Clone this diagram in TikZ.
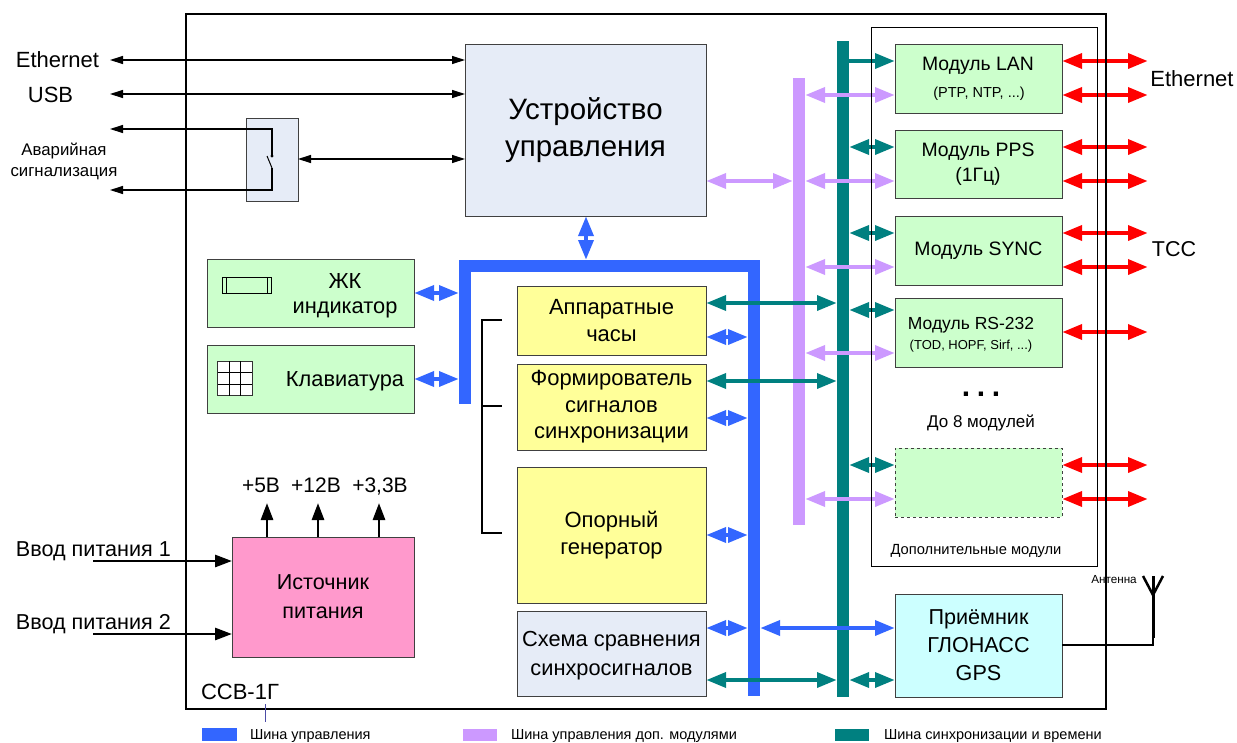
\documentclass[tikz,border=0pt]{standalone}
\usepackage{fontspec}
\setmainfont{Liberation Sans}
\usetikzlibrary{arrows.meta}
\definecolor{cblue}{HTML}{3366FF}
\definecolor{cpurp}{HTML}{CC99FF}
\definecolor{cteal}{HTML}{008080}
\definecolor{cgreen}{HTML}{CCFFCC}
\definecolor{cyell}{HTML}{FFFF99}
\definecolor{ccyan}{HTML}{CCFFFF}
\definecolor{cpink}{HTML}{FF99CC}
\definecolor{cgrey}{HTML}{E6ECF7}
\newcommand\fs[2]{\fontsize{#1}{#2}\selectfont}
\newcommand\bx[7]{\node[#6,minimum width={(#4-#2)*1pt},minimum height={(#5-#3)*1pt}] (#1) at ({(#2+#4)/2},{(#3+#5)/2}) {#7};}
\tikzset{
 box/.style={draw=black!75,line width=1pt,inner sep=0pt,outer sep=0pt,align=center,text=black},
 bar/.style={inner sep=0pt,outer sep=0pt},
 frame/.style={draw=black,inner sep=0pt,outer sep=0pt},
 fat/.style={line width=4.6pt,{Triangle[length=20pt,width=14.5pt]}-{Triangle[length=20pt,width=14.5pt]}},
 fatr/.style={line width=4.6pt,-{Triangle[length=20pt,width=14.5pt]}},
 thin arrow/.style={line width=1.2pt,{Triangle[length=13pt,width=8pt]}-{Triangle[length=13pt,width=8pt]}},
 thin left/.style={line width=1.2pt,{Triangle[length=13pt,width=8pt]}-},
 power/.style={line width=2.8pt,-{Triangle[length=17pt,width=12pt]}},
 lbl/.style={inner sep=0pt,outer sep=0pt,align=center,text=black},
}
\begin{document}
\begin{tikzpicture}[x=1pt,y=-1pt]
\useasboundingbox (0,0) rectangle (1237,742);
\fill[white] (0,0) rectangle (1237,742);
% buses
\bx{tbar}{837}{41}{849}{697}{bar,fill=cteal}{}
\bx{pbar}{793}{78}{805}{525}{bar,fill=cpurp}{}
\bx{busT}{459}{260}{760}{272}{bar,fill=cblue}{}
\bx{busL}{459}{260}{471}{404}{bar,fill=cblue}{}
\bx{busR}{748}{260}{760}{696}{bar,fill=cblue}{}
% boxes
\bx{cu}{465}{44}{706}{216}{box,fill=cgrey,font=\fs{29.5}{37}}{Устройство\\управления}
\bx{sw}{246.5}{118.5}{298}{201}{box,fill=cgrey}{}
\bx{lcd}{207}{259}{414}{327}{box,fill=cgreen}{}
\bx{kbd}{207}{345}{414}{413}{box,fill=cgreen}{}
\bx{clk}{517}{286}{706}{355}{box,fill=cyell,font=\fs{22}{27}}{Аппаратные\\часы}
\bx{form}{517}{364}{706}{450}{box,fill=cyell,font=\fs{22}{26.5}}{Формирователь\\сигналов\\синхронизации}
\bx{gen}{517}{467}{706}{603}{box,fill=cyell,font=\fs{22}{27}}{Опорный\\генератор}
\bx{cmp}{517}{611}{706}{696}{box,fill=cgrey}{}
\bx{psu}{232}{537}{414}{657}{box,fill=cpink,font=\fs{21.6}{29}}{Источник\\питания}
\bx{lan}{895}{44}{1062}{113}{box,fill=cgreen}{}
\bx{pps}{895}{130}{1062}{198}{box,fill=cgreen}{}
\bx{sync}{895}{216}{1062}{285}{box,fill=cgreen,font=\fs{19.4}{22}}{Модуль SYNC}
\bx{rs}{895}{298}{1062}{367}{box,fill=cgreen}{}
\bx{extra}{895}{448}{1062}{517}{box,fill=cgreen,dashed}{}
\bx{gps}{895}{594}{1062}{697}{box,fill=ccyan,font=\fs{21.6}{28}}{Приёмник\\ГЛОНАСС\\GPS}
% labels inside boxes
\node[lbl,font=\fs{21.8}{29}] (cmpt) at (611.5,655.5) {Схема сравнения\\синхросигналов};
\node[lbl,font=\fs{19.4}{25}] (ppst) at (978,164.5) {Модуль PPS\\(1Гц)};
\node[lbl,font=\fs{21.8}{25}] (lcdt) at (345,295.5) {ЖК\\индикатор};
\node[lbl,font=\fs{21.8}{24}] (kbdt) at (345,381) {Клавиатура};
\node[lbl,font=\fs{19.4}{22}] (lant) at (978,66) {Модуль LAN};
\node[lbl,font=\fs{14.5}{16}] (lans) at (979,94) {(PTP, NTP, ...)};
\node[lbl,font=\fs{17.5}{22}] (rst) at (971,325) {Модуль RS-232};
\node[lbl,font=\fs{13}{14}] (rss) at (971,346) {(TOD, HOPF, Sirf, ...)};
\node[lbl,anchor=base,font=\fs{30}{30}\bfseries] (dots) at (981,396.5) {.\hskip 6.7pt.\hskip 6.7pt.};
\node[lbl,font=\fs{17}{18}] (upto) at (981,423) {До 8 модулей};
\node[lbl,font=\fs{14.7}{16}] (addm) at (976,551) {Дополнительные модули};
% icons
\node[box,draw=black,line width=0.8pt,minimum width=49pt,minimum height=16pt,fill=cgreen] (lcdi) at (247,285) {};
\draw[line width=0.8pt] ([xshift=4pt]lcdi.north west) -- ([xshift=4pt]lcdi.south west);
\draw[line width=0.8pt] ([xshift=-4pt]lcdi.north east) -- ([xshift=-4pt]lcdi.south east);
\node[box,draw=black!80,line width=0.8pt,minimum width=34.5pt,minimum height=34.5pt,fill=white] (kbdi) at (235,378.5) {};
\draw[line width=0.8pt] (kbdi.north west) ++(11.5,0) -- ++(0,34.5);
\draw[line width=0.8pt] (kbdi.north west) ++(23,0) -- ++(0,34.5);
\draw[line width=0.8pt] (kbdi.north west) ++(0,11.5) -- ++(34.5,0);
\draw[line width=0.8pt] (kbdi.north west) ++(0,23) -- ++(34.5,0);
% bracket
\coordinate (brA) at (502,320);
\coordinate (brB) at (502,406);
\coordinate (brC) at (502,533);
\draw[line width=2.5pt] (brA) -- (482,320) -- (482,533) -- (brC);
\draw[line width=2.5pt] (482,406) -- (brB);
% control bus arrows (blue)
\draw[fat,draw=cblue,fill=cblue] (cu.south -| 586,0) -- (busT.north -| 586,0);
\draw[fat,draw=cblue,fill=cblue] (lcd.east |- 0,293) -- (busL.west |- 0,293);
\draw[fat,draw=cblue,fill=cblue] (kbd.east |- 0,379) -- (busL.west |- 0,379);
\draw[fat,draw=cblue,fill=cblue] (clk.east |- 0,337) -- (busR.west |- 0,337);
\draw[fat,draw=cblue,fill=cblue] (form.east |- 0,418) -- (busR.west |- 0,418);
\draw[fat,draw=cblue,fill=cblue] (gen.east |- 0,535) -- (busR.west |- 0,535);
\draw[fat,draw=cblue,fill=cblue] (cmp.east |- 0,628) -- (busR.west |- 0,628);
\draw[fat,draw=cblue,fill=cblue] (busR.east |- 0,628) -- (gps.west |- 0,628);
% purple arrows
\draw[fat,draw=cpurp,fill=cpurp] (cu.east |- 0,181) -- (pbar.west |- 0,181);
\draw[fat,draw=cpurp,fill=cpurp] (pbar.east |- 0,95) -- (lan.west |- 0,95);
\draw[fat,draw=cpurp,fill=cpurp] (pbar.east |- 0,181) -- (pps.west |- 0,181);
\draw[fat,draw=cpurp,fill=cpurp] (pbar.east |- 0,267) -- (sync.west |- 0,267);
\draw[fat,draw=cpurp,fill=cpurp] (pbar.east |- 0,353) -- (rs.west |- 0,353);
\draw[fat,draw=cpurp,fill=cpurp] (pbar.east |- 0,499) -- (extra.west |- 0,499);
% teal arrows
\draw[fatr,draw=cteal,fill=cteal] (tbar.east |- 0,61) -- (lan.west |- 0,61);
\draw[fat,draw=cteal,fill=cteal] (tbar.east |- 0,147) -- (pps.west |- 0,147);
\draw[fat,draw=cteal,fill=cteal] (tbar.east |- 0,233) -- (sync.west |- 0,233);
\draw[fat,draw=cteal,fill=cteal] (tbar.east |- 0,310) -- (rs.west |- 0,310);
\draw[fat,draw=cteal,fill=cteal] (tbar.east |- 0,465) -- (extra.west |- 0,465);
\draw[fat,draw=cteal,fill=cteal] (tbar.east |- 0,680) -- (gps.west |- 0,680);
\draw[fat,draw=cteal,fill=cteal] (clk.east |- 0,303) -- (tbar.west |- 0,303);
\draw[fat,draw=cteal,fill=cteal] (form.east |- 0,381) -- (tbar.west |- 0,381);
\draw[fat,draw=cteal,fill=cteal] (cmp.east |- 0,680) -- (tbar.west |- 0,680);
% red arrows
\foreach \n/\y/\m in {lan/61/a,lan/95/b,pps/147/c,pps/181/d,sync/233/e,sync/267/f,rs/332/g,extra/465/h,extra/499/i}{
  \coordinate (red\m) at (1148,\y);
  \draw[fat,draw=red,fill=red] (\n.east |- 0,\y) -- (red\m);
}
% thin connectors
\coordinate (ethL) at (110,60);
\coordinate (usbL) at (110,94);
\coordinate (alA) at (110,129);
\coordinate (alB) at (110,190);
\coordinate (swA) at (272,156);
\coordinate (swB) at (272,168);
\draw[thin arrow] (ethL) -- (cu.west |- ethL);
\draw[thin arrow] (usbL) -- (cu.west |- usbL);
\draw[thin arrow] (sw.east |- 0,159) -- (cu.west |- 0,159);
\draw[thin left] (alA) -- (272,129) -- (swA);
\draw[thin left] (alB) -- (272,190) -- (swB);
\draw[line width=1pt] (swB) -- (267,156);
\fill (swA) circle (1.6);
% power
\coordinate (pw1) at (93,561);
\coordinate (pw2) at (93,634);
\draw[power] (pw1) -- (psu.west |- pw1);
\draw[power] (pw2) -- (psu.west |- pw2);
\coordinate (v5) at (267,503);
\coordinate (v12) at (318,503);
\coordinate (v33) at (379,503);
\draw[power] (psu.north -| v5) -- (v5);
\draw[power] (psu.north -| v12) -- (v12);
\draw[power] (psu.north -| v33) -- (v33);
% antenna
\coordinate (ant) at (1153,595);
\coordinate (antL) at (1143,576);
\coordinate (antR) at (1163,576);
\coordinate (antT) at (1153,576);
\coordinate (antB) at (1153,638);
\draw[line width=1.2pt] (gps.east |- 0,645) -- (1153,645) -- (antB);
\draw[line width=3pt] (antB) -- (antT);
\draw[line width=2.5pt] (antL) -- (ant) -- (antR);
% frames on top
\bx{main}{186}{14}{1106}{709}{frame,line width=2.2pt}{}
\bx{addf}{871}{27}{1097.5}{566.5}{frame,line width=1pt}{}
% outer labels
\node[lbl,font=\fs{22}{24}] (tEth) at (57.5,60) {Ethernet};
\node[lbl,font=\fs{22}{24}] (tUsb) at (50.5,94.5) {USB};
\node[lbl,font=\fs{16.8}{21}] (tAl) at (64,161.5) {Аварийная\\сигнализация};
\node[lbl,font=\fs{22}{24}] (tEth2) at (1192,79) {Ethernet};
\node[lbl,font=\fs{21.5}{24}] (tTcc) at (1174,249) {ТСС};
\node[lbl,font=\fs{11.7}{12}] (tAnt) at (1114,580) {Антенна};
\node[lbl,anchor=west,font=\fs{21.6}{24}] (tP1) at (16,551) {Ввод питания 1};
\node[lbl,anchor=west,font=\fs{21.6}{24}] (tP2) at (16,624) {Ввод питания 2};
\node[lbl,anchor=base,font=\fs{21}{24}] (t5) at (261,492) {+5В};
\node[lbl,anchor=base,font=\fs{21}{24}] (t12) at (316,492) {+12В};
\node[lbl,anchor=base,font=\fs{21}{24}] (t33) at (380,492) {+3,3В};
\node[lbl,anchor=west,font=\fs{22}{22}] (tSsv) at (201,692) {ССВ-1Г};
\coordinate (lead) at (265,704);
\coordinate (leadB) at (265,722);
\draw[blue!50!black!70,line width=0.7pt] (lead) -- (leadB);
% legend
\bx{lgA}{202}{728}{236.5}{740.5}{bar,fill=cblue}{}
\bx{lgB}{463}{729}{497}{741}{bar,fill=cpurp}{}
\bx{lgC}{835}{729}{869}{741}{bar,fill=cteal}{}
\node[lbl,anchor=west,font=\fs{14.5}{16}] (ltA) at (250,736.5) {Шина управления};
\node[lbl,anchor=west,font=\fs{14.5}{16}] (ltB) at (511,736.5) {Шина управления доп. модулями};
\node[lbl,anchor=west,font=\fs{14.5}{16}] (ltC) at (884,736.5) {Шина синхронизации и времени};
\end{tikzpicture}
\end{document}
